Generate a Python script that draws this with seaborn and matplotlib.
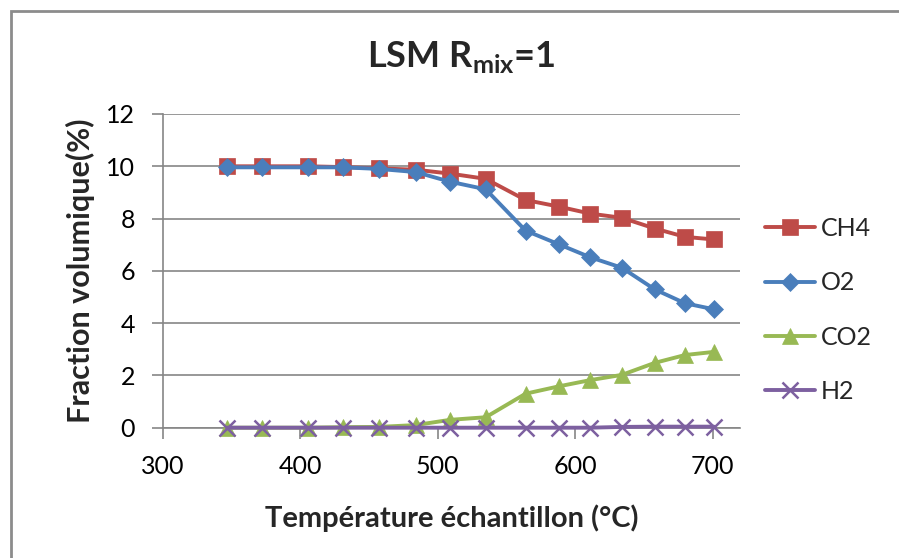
import matplotlib
matplotlib.use("Agg")
import matplotlib.pyplot as plt
import seaborn as sns
import pandas as pd
from matplotlib.patches import Rectangle

temperature = [347, 372, 406, 431, 457, 484, 509, 535, 564, 588, 611, 634, 658, 680, 701]
ch4 = [10.0, 10.0, 10.0, 9.97, 9.92, 9.87, 9.72, 9.52, 8.71, 8.46, 8.19, 8.03, 7.62, 7.30, 7.20]
o2 = [9.96, 9.96, 9.96, 9.96, 9.90, 9.78, 9.41, 9.12, 7.54, 7.02, 6.52, 6.12, 5.29, 4.76, 4.53]
co2 = [0.0, 0.0, 0.0, 0.02, 0.03, 0.1, 0.3, 0.4, 1.3, 1.58, 1.82, 2.02, 2.48, 2.78, 2.9]
h2 = [0.0, 0.0, 0.0, 0.0, 0.0, 0.0, 0.0, 0.0, 0.0, 0.0, 0.0, 0.03, 0.04, 0.04, 0.04]
series_names = ["CH4", "O2", "CO2", "H2"]
x_ticks = [300, 400, 500, 600, 700]
y_ticks = [0, 2, 4, 6, 8, 10, 12]

colors = {"CH4": "#BE4B48", "O2": "#4A7EBB", "CO2": "#98B954", "H2": "#7D60A0"}
markers = {"CH4": "s", "O2": "D", "CO2": "^", "H2": "x"}
msizes = {"CH4": 11, "O2": 9.5, "CO2": 11, "H2": 12}

df = pd.concat([
    pd.DataFrame({"T": temperature, "val": v, "gaz": n})
    for n, v in zip(series_names, [ch4, o2, co2, h2])
])

sns.set_theme(style="white")
plt.rcParams["font.family"] = ["Lato", "DejaVu Sans"]

fig = plt.figure(figsize=(8.99, 5.58), dpi=100)
ax = fig.add_axes([162.7 / 899, 1 - 427.7 / 558, (740 - 162.7) / 899, (427.7 - 114) / 558])

for n in series_names:
    sub = df[df["gaz"] == n]
    sns.lineplot(data=sub, x="T", y="val", ax=ax, color=colors[n], marker=markers[n],
                 markersize=msizes[n], linewidth=2.8, label=n,
                 markeredgecolor=colors[n], markeredgewidth=1.8 if n == "H2" else 0.5,
                 zorder=3 if n != "H2" else 4, clip_on=False)

ax.set_xlim(300, 720)
ax.set_ylim(0, 12)
ax.set_xticks(x_ticks)
ax.set_yticks(y_ticks)
ax.grid(axis="y", color="#868686", linewidth=1.2)
ax.grid(axis="x", visible=False)
for s in ["top", "right"]:
    ax.spines[s].set_visible(False)
for s in ["left", "bottom"]:
    ax.spines[s].set_color("#868686")
    ax.spines[s].set_linewidth(1.2)
    ax.spines[s].set_zorder(1)
ax.tick_params(axis="both", colors="#868686", labelcolor="black", labelsize=18,
               length=8, width=1.2, direction="out", bottom=True, left=True)
ax.tick_params(axis="x", pad=12)
ax.tick_params(axis="y", pad=12)

ax.set_xlabel("Température échantillon (°C)", fontsize=21, fontweight="bold")
ax.xaxis.set_label_coords(0.5, -(504 - 427.7) / 313.7)
ax.set_ylabel("Fraction volumique(%)", fontsize=22, fontweight="bold")
ax.yaxis.set_label_coords(-(162.7 - 95) / 577.3, 0.5)
fig.text(461 / 899, 1 - 57 / 558, r"LSM R$_{\mathregular{mix}}$=1", fontsize=26, fontweight="bold",
         ha="center", va="center")

leg = ax.legend(loc="center left", bbox_to_anchor=(1.005, 0.375), frameon=False, fontsize=18,
                handlelength=2.0, labelspacing=1.25, handletextpad=0.2)

fig.patches.append(Rectangle((11 / 899, -0.1), 1.2, 1 - 11 / 558 + 0.1, transform=fig.transFigure,
                             fill=False, edgecolor="#8C8C8C", linewidth=2))

fig.savefig("out.png", dpi=100)
